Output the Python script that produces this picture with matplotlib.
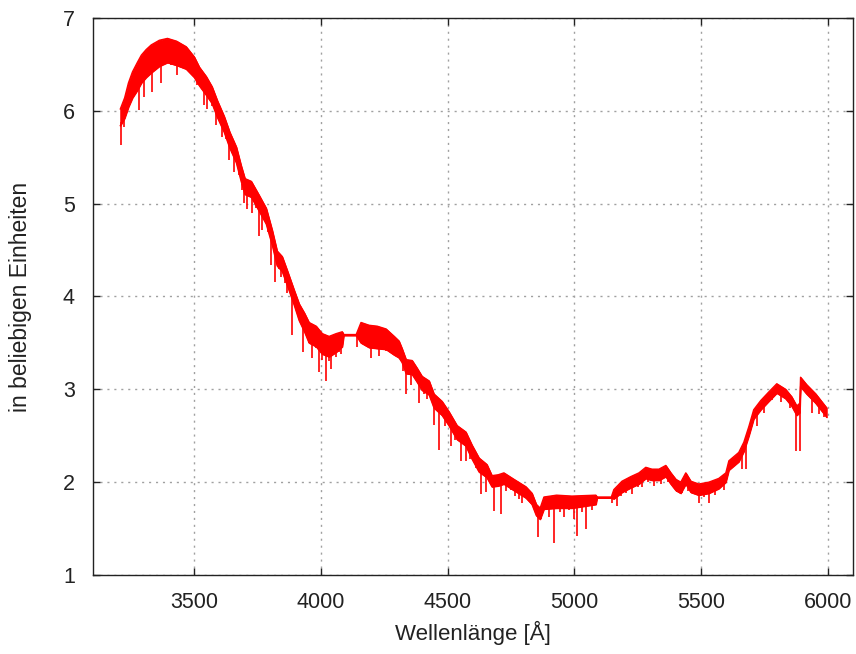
import numpy as np
import matplotlib
matplotlib.use("Agg")
import matplotlib.pyplot as plt

# Upper envelope of the measured spectrum (wavelength in Angstrom, flux in arbitrary units)
wavelength = [3208, 3225, 3240, 3256, 3275, 3291, 3310, 3330, 3362, 3394,
              3430, 3468, 3500, 3520, 3547, 3570, 3591, 3618, 3640, 3666,
              3685, 3700, 3725, 3756, 3784, 3808, 3827, 3847, 3867, 3894,
              3914, 3935, 3953, 3981, 4005, 4032, 4060, 4084, 4090, 4139,
              4158, 4190, 4222, 4257, 4289, 4308, 4320, 4336, 4360, 4379,
              4399, 4427, 4446, 4478, 4505, 4537, 4572, 4596, 4624, 4655,
              4675, 4700, 4722, 4762, 4809, 4833, 4850, 4865, 4880, 4930,
              4990, 5085, 5090, 5146, 5156, 5188, 5223, 5255, 5282, 5306,
              5334, 5361, 5381, 5401, 5420, 5440, 5460, 5491, 5531, 5570,
              5598, 5610, 5649, 5669, 5689, 5708, 5736, 5767, 5799, 5834,
              5858, 5878, 5890, 5893, 5917, 5953, 5996]
flux_top = [6.02, 6.14, 6.30, 6.42, 6.52, 6.60, 6.66, 6.71, 6.76, 6.78,
            6.75, 6.69, 6.58, 6.47, 6.37, 6.26, 6.11, 5.94, 5.77, 5.61,
            5.41, 5.27, 5.24, 5.09, 4.95, 4.71, 4.49, 4.43, 4.28, 4.07,
            3.92, 3.82, 3.72, 3.68, 3.60, 3.57, 3.60, 3.62, 3.59, 3.59,
            3.72, 3.69, 3.68, 3.65, 3.57, 3.52, 3.44, 3.32, 3.31, 3.23,
            3.14, 3.09, 2.95, 2.87, 2.76, 2.61, 2.54, 2.40, 2.26, 2.19,
            2.07, 2.08, 2.10, 2.03, 1.95, 1.88, 1.76, 1.72, 1.84, 1.86,
            1.85, 1.86, 1.84, 1.84, 1.92, 2.01, 2.06, 2.10, 2.16, 2.14,
            2.14, 2.18, 2.10, 2.03, 2.00, 2.10, 2.01, 1.98, 2.00, 2.04,
            2.10, 2.23, 2.32, 2.43, 2.60, 2.78, 2.88, 2.97, 3.06, 3.00,
            2.92, 2.82, 2.85, 3.13, 3.05, 2.95, 2.80]
# Depth of the dense line forest below the upper envelope
band_width = [0.18, 0.22, 0.26, 0.28, 0.30, 0.30, 0.30, 0.30, 0.28, 0.26,
              0.26, 0.24, 0.22, 0.20, 0.20, 0.18, 0.18, 0.17, 0.17, 0.17,
              0.17, 0.17, 0.17, 0.17, 0.17, 0.16, 0.16, 0.16, 0.16, 0.16,
              0.18, 0.20, 0.22, 0.22, 0.22, 0.22, 0.20, 0.16, 0.01, 0.01,
              0.22, 0.24, 0.24, 0.22, 0.20, 0.18, 0.15, 0.15, 0.15, 0.15,
              0.15, 0.15, 0.15, 0.15, 0.15, 0.15, 0.15, 0.15, 0.15, 0.14,
              0.12, 0.12, 0.12, 0.12, 0.12, 0.12, 0.12, 0.12, 0.13, 0.14,
              0.13, 0.10, 0.01, 0.01, 0.10, 0.12, 0.12, 0.12, 0.12, 0.12,
              0.12, 0.12, 0.12, 0.12, 0.12, 0.12, 0.12, 0.12, 0.12, 0.11,
              0.10, 0.10, 0.10, 0.10, 0.10, 0.10, 0.10, 0.10, 0.10, 0.10,
              0.10, 0.10, 0.10, 0.10, 0.10, 0.10, 0.10]

# Absorption lines: position and the flux reached in the line core
line_wavelength = [3212, 3218, 3224, 3262, 3283, 3295, 3303, 3318, 3334, 3352,
                   3370, 3382, 3409, 3421, 3433, 3450, 3468, 3488, 3512, 3522,
                   3532, 3540, 3551, 3568, 3587, 3598, 3610, 3625, 3638, 3648,
                   3658, 3677, 3690, 3697, 3709, 3729, 3742, 3756, 3768, 3790,
                   3804, 3819, 3833, 3843, 3858, 3867, 3886, 3900, 3914, 3930,
                   3945, 3953, 3965, 3980, 3993, 4005, 4020, 4030, 4040, 4058,
                   4072, 4080, 4143, 4170, 4198, 4215, 4229, 4245, 4257, 4275,
                   4300, 4325, 4336, 4356, 4387, 4405, 4420, 4446, 4466, 4490,
                   4513, 4530, 4553, 4572, 4590, 4610, 4632, 4651, 4683, 4710,
                   4730, 4750, 4765, 4781, 4793, 4809, 4857, 4870, 4900, 4920,
                   4945, 4958, 4980, 4998, 5010, 5030, 5046, 5068, 5148, 5168,
                   5185, 5205, 5227, 5250, 5267, 5290, 5314, 5341, 5370, 5405,
                   5425, 5450, 5480, 5491, 5510, 5531, 5555, 5590, 5661, 5677,
                   5720, 5750, 5780, 5815, 5850, 5874, 5890, 5937, 5964, 5985]
line_core = [5.63, 5.95, 5.83, 6.22, 6.01, 6.35, 6.15, 6.40, 6.20, 6.45,
             6.30, 6.50, 6.49, 6.55, 6.39, 6.55, 6.47, 6.50, 6.28, 6.35,
             6.30, 6.06, 6.02, 6.05, 5.85, 5.90, 5.72, 5.70, 5.47, 5.55,
             5.34, 5.31, 5.15, 5.01, 4.94, 4.90, 4.95, 4.65, 4.72, 4.70,
             4.34, 4.16, 4.30, 4.21, 4.15, 4.04, 3.59, 3.90, 3.78, 3.40,
             3.58, 3.50, 3.34, 3.45, 3.19, 3.32, 3.09, 3.30, 3.22, 3.35,
             3.40, 3.38, 3.46, 3.48, 3.34, 3.45, 3.36, 3.42, 3.41, 3.40,
             3.35, 3.20, 2.95, 3.05, 2.85, 2.95, 2.90, 2.62, 2.35, 2.60,
             2.39, 2.45, 2.23, 2.23, 2.25, 2.15, 1.87, 1.89, 1.69, 1.66,
             1.90, 1.92, 1.85, 1.82, 1.78, 1.84, 1.41, 1.60, 1.63, 1.35,
             1.68, 1.62, 1.70, 1.60, 1.42, 1.68, 1.50, 1.70, 1.78, 1.74,
             1.85, 1.88, 1.87, 1.95, 1.95, 2.00, 1.96, 1.98, 2.00, 1.89,
             1.88, 1.90, 1.87, 1.78, 1.84, 1.78, 1.86, 1.92, 2.14, 2.14,
             2.60, 2.75, 2.88, 2.86, 2.80, 2.34, 2.34, 2.75, 2.73, 2.70]

x_ticks = [3500, 4000, 4500, 5000, 5500, 6000]
y_ticks = [1, 2, 3, 4, 5, 6, 7]

plt.rcParams["font.family"] = ["Liberation Sans", "DejaVu Sans"]

fig = plt.figure(figsize=(8.56, 6.54), dpi=100)
ax = fig.add_axes([0.1086, 0.1208, 0.8879, 0.8517])

wl = np.array(wavelength, dtype=float)
top = np.array(flux_top)
floor = top - np.array(band_width)

red = "#ff0000"
ax.fill_between(wl, floor, top, color=red, linewidth=0.8, edgecolor=red, zorder=3)
ax.plot(wl, top, color=red, lw=1.0, zorder=3)
ax.plot(wl, floor, color=red, lw=1.0, zorder=3)

lines_x = np.array(line_wavelength, dtype=float)
ax.vlines(lines_x, line_core, np.interp(lines_x, wl, floor) + 0.02,
          color=red, lw=1.2, zorder=3)

ax.set_xlim(3100, 6100)
ax.set_ylim(1, 7)
ax.set_xticks(x_ticks)
ax.set_yticks(y_ticks)
ax.grid(True, color="#a0a0a0", linestyle=(0, (1.5, 3.5)), linewidth=1.0)
ax.tick_params(direction="in", top=True, right=True, length=5, width=1,
               labelsize=15.5, colors="#222222")
ax.tick_params(axis="x", pad=12)
ax.tick_params(axis="y", pad=13)
for s in ax.spines.values():
    s.set_linewidth(1.0)
    s.set_color("#222222")

ax.set_xlabel("Wellenlänge [Å]", fontsize=16, labelpad=6, color="#222222")
ax.set_ylabel("in beliebigen Einheiten", fontsize=16.5, labelpad=22, color="#222222")

fig.savefig("out.png", dpi=100)
